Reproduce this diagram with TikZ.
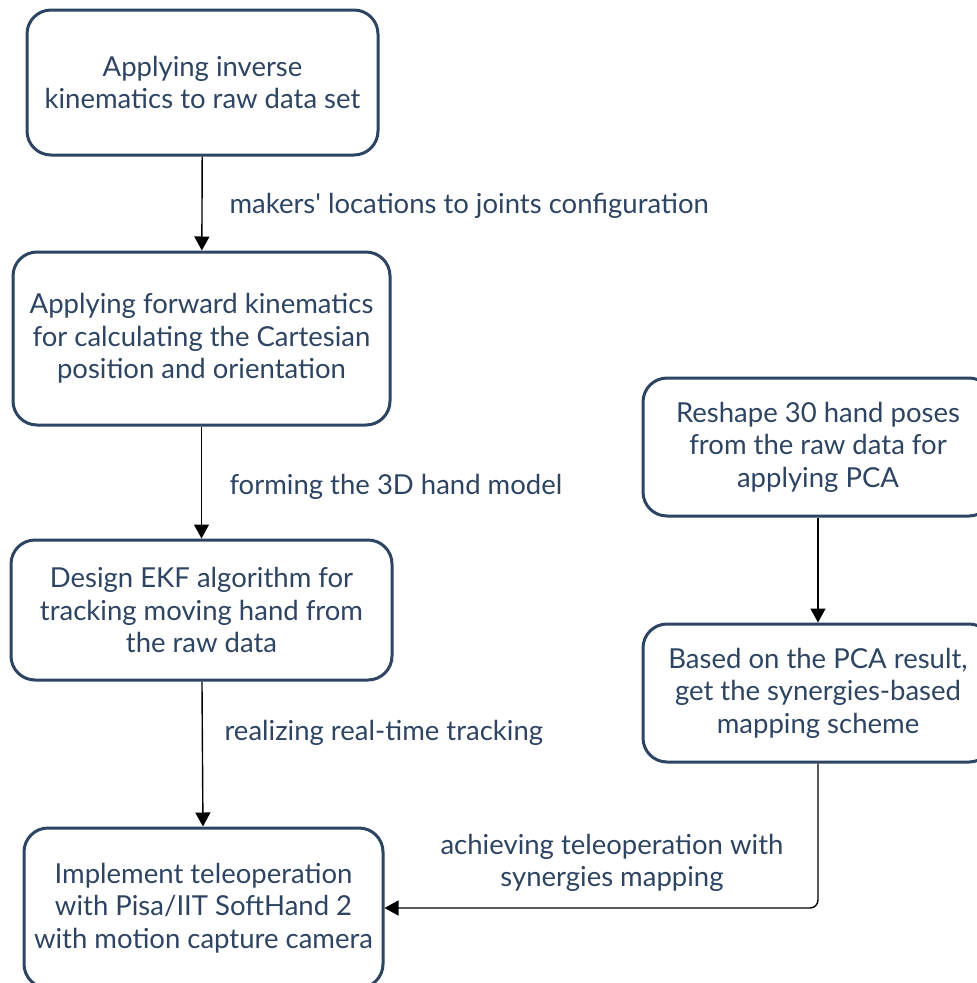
\documentclass[tikz,border=0pt]{standalone}
\usepackage{fontspec}
\setmainfont{Lato}
\usetikzlibrary{arrows.meta}
\definecolor{boxnavy}{HTML}{2D4462}
\tikzset{
  stagebox/.style={draw=boxnavy, line width=3pt, rounded corners=24pt, text=boxnavy,
    align=center, inner sep=0pt, font=\fontsize{27.5}{32.5}\selectfont},
  flowarrow/.style={-{Triangle[length=14pt,width=15pt]}, line width=1.4pt, black},
  steplabel/.style={text=boxnavy, align=center, font=\fontsize{27.5}{32.5}\selectfont}
}
\begin{document}
\begin{tikzpicture}[x=1pt, y=-1pt]
    \useasboundingbox (0,0) rectangle (977,983);

    % Left column of stages
    \node[stagebox, minimum width=351pt, minimum height=145pt] (ik) at (202.5,82.5)
        {Applying inverse\\kinematics to raw data set};
    \node[stagebox, minimum width=377pt, minimum height=173pt] (fk) at (201.5,338.5)
        {Applying forward kinematics\\for calculating the Cartesian\\position and orientation};
    \node[stagebox, minimum width=381pt, minimum height=140pt] (ekf) at (201.5,610)
        {Design EKF algorithm for\\tracking moving hand from\\the raw data};
    \node[stagebox, minimum width=359pt, minimum height=160pt] (tele) at (203.5,908)
        {Implement teleoperation\\with Pisa/IIT SoftHand 2\\with motion capture camera};

    % Right column (PCA branch)
    \node[stagebox, minimum width=350pt, minimum height=138pt] (pca) at (818,447)
        {Reshape 30 hand poses\\from the raw data for\\applying PCA};
    \node[stagebox, minimum width=350pt, minimum height=138pt] (syn) at (818,693)
        {Based on the PCA result,\\get the synergies-based\\mapping scheme};

    % Connectors
    \draw[flowarrow] (ik) -- (fk);
    \node[steplabel, anchor=west] (lbla) at (226,206) {makers\textquotesingle\ locations to joints configuration};
    \draw[flowarrow] (fk) -- (ekf);
    \node[steplabel, anchor=west] (lblb) at (226,487) {forming the 3D hand model};
    \draw[flowarrow] (ekf) -- (tele);
    \node[steplabel, anchor=west] (lblc) at (221,733) {realizing real-time tracking};
    \draw[flowarrow, rounded corners=8pt] (syn) |- (tele);
    \node[steplabel] (lbld) at (612,863) {achieving teleoperation with\\synergies mapping};
    \draw[flowarrow] (pca) -- (syn);
\end{tikzpicture}
\end{document}
